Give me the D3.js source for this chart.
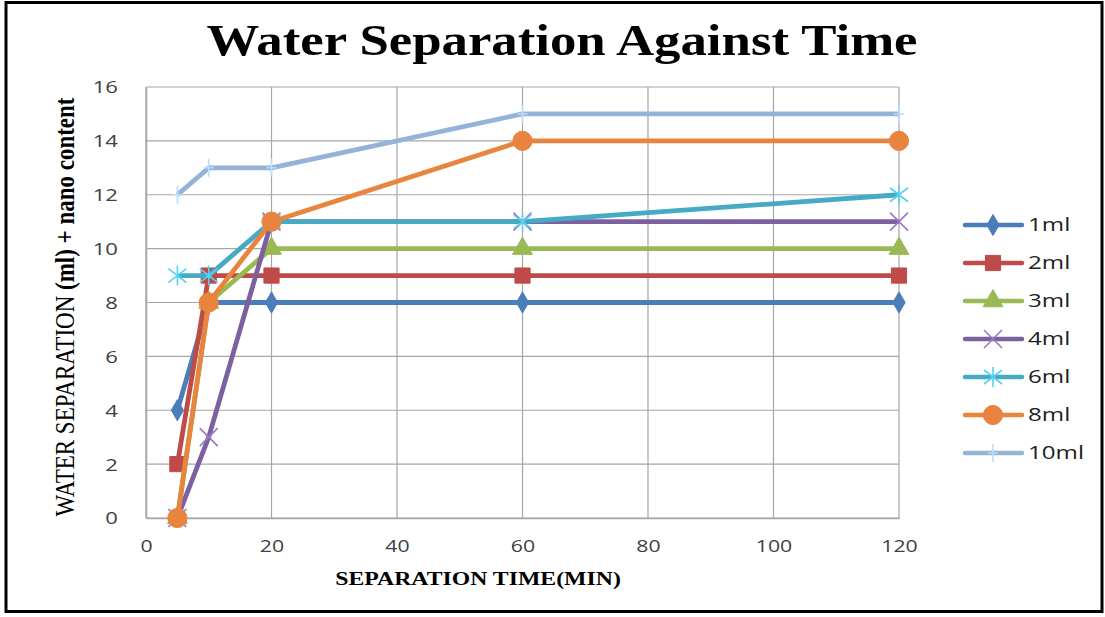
<!DOCTYPE html>
<html><head><meta charset="utf-8">
<script src="https://cdn.jsdelivr.net/npm/d3@7"></script>
<style>body{margin:0;background:#fff}svg{display:block}</style>
</head><body>
<script>
const xValues = [5, 10, 20, 60, 120];
const seriesNames = ["1ml","2ml","3ml","4ml","6ml","8ml","10ml"];
const s1ml = [4, 8, 8, 8, 8];
const s2ml = [2, 9, 9, 9, 9];
const s3ml = [0, 8, 10, 10, 10];
const s4ml = [0, 3, 11, 11, 11];
const s6ml = [9, 9, 11, 11, 12];
const s8ml = [0, 8, 11, 14, 14];
const s10ml = [12, 13, 13, 15, 15];
const xTicks = [0, 20, 40, 60, 80, 100, 120];
const yTicks = [0, 2, 4, 6, 8, 10, 12, 14, 16];
const colors = ["#4A7EBB","#BE4B48","#98B954","#7D60A0","#46AAC5","#E8843D","#95B3D7"];
const markers = ["diamond","square","triangle","x","star","circle","plus"];
const allSeries = [s1ml,s2ml,s3ml,s4ml,s6ml,s8ml,s10ml];

const W = 1105, H = 617;
const SANS = "'Open Sans', 'DejaVu Sans', sans-serif";
const SERIF = "'Liberation Serif', 'DejaVu Serif', serif";
const svg = d3.select("body").append("svg").attr("width", W).attr("height", H);
svg.append("rect").attr("x",0).attr("y",0).attr("width",W).attr("height",H).attr("fill","#fff");
svg.append("rect").attr("x",6).attr("y",2.5).attr("width",1096).attr("height",609)
  .attr("fill","none").attr("stroke","#000").attr("stroke-width",3);

const L = 146, R = 899, T = 87, B = 518;
const x = d3.scaleLinear().domain([0,120]).range([L,R]);
const y = d3.scaleLinear().domain([0,16]).range([B,T]);

// stretched text helper (reference image is horizontally stretched)
function sText(parent, px, py, sx, txt){
  return parent.append("text").attr("transform",`translate(${px},${py}) scale(${sx},1)`).text(txt);
}

// gridlines
const g = svg.append("g");
g.selectAll(".hg").data(yTicks).join("line")
  .attr("x1",L).attr("x2",R).attr("y1",d=>y(d)).attr("y2",d=>y(d))
  .attr("stroke","#a6a6a6").attr("stroke-width",1.2);
g.selectAll(".vg").data(xTicks).join("line")
  .attr("y1",T).attr("y2",B).attr("x1",d=>x(d)).attr("x2",d=>x(d))
  .attr("stroke","#a6a6a6").attr("stroke-width",1.2);

// axes
const xAxis = svg.append("g").attr("transform",`translate(0,${B})`)
  .call(d3.axisBottom(x).tickValues(xTicks).tickSize(0).tickPadding(22));
const yAxis = svg.append("g").attr("transform",`translate(${L},0)`)
  .call(d3.axisLeft(y).tickValues(yTicks).tickSize(0).tickPadding(28));
[xAxis,yAxis].forEach(a=>{
  a.select(".domain").attr("stroke","#a6a6a6").attr("stroke-width",1.5);
  a.selectAll("text").attr("font-family",SANS)
   .attr("font-size",17).attr("fill","#404040");
});
xAxis.selectAll("text").attr("transform","scale(1.25,1)");
yAxis.selectAll("text").attr("dy","0.35em").attr("x",-28/1.3).attr("transform","scale(1.3,1)");

// lines
const line = d3.line().x((d,i)=>x(xValues[i])).y(d=>y(d));
function markerPath(type){
  switch(type){
    case "diamond": return d3.symbol(d3.symbolDiamond, 130)();
    case "square": return d3.symbol(d3.symbolSquare, 230)();
    case "triangle": return d3.symbol(d3.symbolTriangle, 170)();
    case "circle": return d3.symbol(d3.symbolCircle, 290)();
    case "x": return "M-9,-9L9,9M-9,9L9,-9";
    case "star": return "M-9,-7L9,7M-9,7L9,-7M0,-10L0,10";
    case "plus": return "M-5,0L5,0M0,-9L0,9";
  }
}
function drawMarker(sel, type, color){
  const p = sel.append("path").attr("d", markerPath(type));
  if(type==="x"||type==="star"||type==="plus"){
    const c = d3.color(color).brighter(0.6);
    p.attr("fill","none").attr("stroke",c).attr("stroke-width",1.6);
  } else {
    p.attr("fill",color).attr("stroke",color).attr("stroke-width",1);
  }
}
allSeries.forEach((s,k)=>{
  svg.append("path").datum(s).attr("d",line).attr("fill","none")
    .attr("stroke",colors[k]).attr("stroke-width",4.8).attr("stroke-linejoin","round");
  s.forEach((v,i)=>{
    const mg = svg.append("g").attr("transform",`translate(${x(xValues[i])},${y(v)})`);
    drawMarker(mg, markers[k], colors[k]);
  });
});

// legend
const lg = svg.append("g");
seriesNames.forEach((n,k)=>{
  const yy = 225 + k*38;
  lg.append("line").attr("x1",965).attr("x2",1022).attr("y1",yy).attr("y2",yy)
    .attr("stroke",colors[k]).attr("stroke-width",4.5).attr("stroke-linecap","round");
  const mg = lg.append("g").attr("transform",`translate(993,${yy})`);
  drawMarker(mg, markers[k], colors[k]);
  sText(lg, 1028, yy, 1.38, n).attr("dy","0.35em")
    .attr("font-family",SANS).attr("font-size",17.5).attr("fill","#202020");
});

// titles
sText(svg, 562, 55, 1.2, "Water Separation Against Time").attr("text-anchor","middle")
  .attr("font-family",SERIF).attr("font-weight","bold")
  .attr("font-size",44).attr("fill","#000");
sText(svg, 478, 585, 1.25, "SEPARATION TIME(MIN)").attr("text-anchor","middle")
  .attr("font-family",SERIF).attr("font-weight","bold")
  .attr("font-size",19).attr("fill","#000");
const yt = svg.append("text").attr("transform","translate(74,307) rotate(-90) scale(1,1.2)")
  .attr("text-anchor","middle")
  .attr("font-family",SERIF).attr("font-weight","bold")
  .attr("font-size",23).attr("fill","#000");
yt.append("tspan").attr("font-weight","normal").text("WATER SEPARATION ");
yt.append("tspan").text("(ml) + nano content");
</script>
</body></html>
